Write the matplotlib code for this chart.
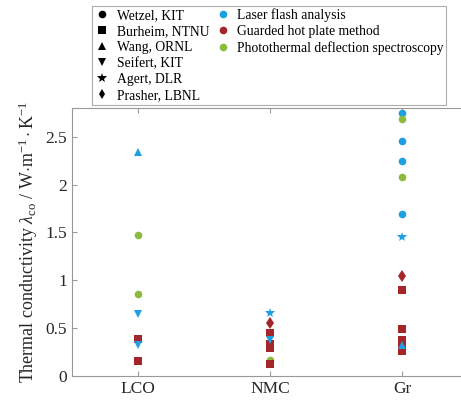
import numpy as np
import matplotlib.pyplot as plt
from matplotlib.lines import Line2D

plt.rcParams['font.family'] = ['Liberation Serif', 'DejaVu Serif']
plt.rcParams['mathtext.fontset'] = 'custom'
plt.rcParams['mathtext.rm'] = 'Liberation Serif'
plt.rcParams['mathtext.it'] = 'Liberation Serif:italic'

materials = ['LCO', 'NMC', 'Gr']

# one list per (source, method) series: material index and value
wetzel_laser_x = [3, 3, 3, 3]
wetzel_laser_y = [2.75, 2.46, 2.25, 1.69]
wetzel_photo_x = [1, 1, 2, 3, 3]
wetzel_photo_y = [1.47, 0.86, 0.17, 2.69, 2.08]
burheim_x = [1, 1, 2, 2, 2, 2, 3, 3, 3, 3, 3]
burheim_y = [0.39, 0.16, 0.45, 0.33, 0.29, 0.13, 0.90, 0.49, 0.38, 0.30, 0.26]
wang_x = [1, 3]
wang_y = [2.34, 0.32]
seifert_x = [1, 1, 2]
seifert_y = [0.65, 0.32, 0.38]
agert_x = [2, 3]
agert_y = [0.66, 1.45]
prasher_x = [2, 3]
prasher_y = [0.55, 1.05]

blue = '#1E9FE3'
red = '#A3262B'
green = '#8DBB3C'

fig = plt.figure(figsize=(4.61, 4.03), dpi=100)
ax = fig.add_axes([0.156, 0.067, 0.859, 0.665])

ms = 5.5
ax.plot(wetzel_laser_x, wetzel_laser_y, 'o', color=blue, ms=ms, mew=0)
ax.plot(wetzel_photo_x, wetzel_photo_y, 'o', color=green, ms=ms, mew=0)
ax.plot(burheim_x, burheim_y, 's', color=red, ms=ms, mew=0)
ax.plot(wang_x, wang_y, '^', color=blue, ms=ms + 0.5, mew=0)
ax.plot(seifert_x, seifert_y, 'v', color=blue, ms=ms + 0.5, mew=0)
ax.plot(agert_x, agert_y, '*', color=blue, ms=ms + 2, mew=0)
ax.plot(prasher_x, prasher_y, 'd', color=red, ms=ms + 0.5, mew=0)

ax.set_xlim(0.5, 3.5)
ax.set_ylim(0, 2.8)
ax.set_xticks([1, 2, 3])
ax.set_xticklabels(materials)
ax.set_yticks([0, 0.5, 1, 1.5, 2, 2.5])
ax.set_yticklabels(['0', '0.5', '1', '1.5', '2', '2.5'])
ax.tick_params(direction='in', top=True, right=True, labelsize=12.5,
               colors='#999999', labelcolor='#262626', length=3.5, width=0.8)
for s in ax.spines.values():
    s.set_color('#999999')
    s.set_linewidth(0.8)
ax.set_ylabel(r'Thermal conductivity $\lambda_{\mathrm{co}}$ / W$\cdot$m$^{\mathrm{-1}}\cdot$K$^{\mathrm{-1}}$',
              fontsize=13, color='#262626', labelpad=4)

# legend: sources in black, methods by colour
sources = [('o', 'Wetzel, KIT'), ('s', 'Burheim, NTNU'), ('^', 'Wang, ORNL'),
           ('v', 'Seifert, KIT'), ('*', 'Agert, DLR'), ('d', 'Prasher, LBNL')]
methods = [(blue, 'Laser flash analysis'), (red, 'Guarded hot plate method'),
           (green, 'Photothermal deflection spectroscopy')]
handles, labels = [], []
for m, lab in sources:
    handles.append(Line2D([], [], ls='none', marker=m, color='black',
                          ms=ms + (2 if m == '*' else 0), mew=0))
    labels.append(lab)
for c, lab in methods:
    handles.append(Line2D([], [], ls='none', marker='o', color=c, ms=ms, mew=0))
    labels.append(lab)
for _ in range(3):
    handles.append(Line2D([], [], ls='none'))
    labels.append('')

leg = fig.legend(handles, labels, ncol=2, loc='upper left',
                 bbox_to_anchor=(0.2, 0.985), borderaxespad=0, fontsize=9.85,
                 frameon=True, fancybox=False, edgecolor='#999999',
                 handlelength=1.2, handletextpad=0.45, columnspacing=0.4,
                 labelspacing=0.22, borderpad=0.15)
leg.get_frame().set_linewidth(0.8)

fig.savefig('out.png', dpi=100)
